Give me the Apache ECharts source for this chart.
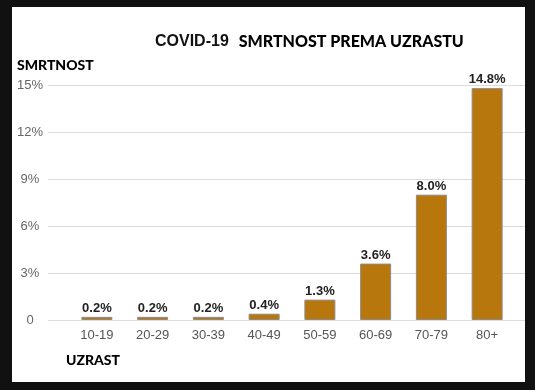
<!DOCTYPE html>
<html>
<head>
<meta charset="utf-8">
<script src="https://cdn.jsdelivr.net/npm/echarts@6/dist/echarts.min.js"></script>
<style>html,body{margin:0;padding:0;background:#111;}#c{width:535px;height:390px;}</style>
</head>
<body>
<div id="c"></div>
<script>
const categories = ['10-19','20-29','30-39','40-49','50-59','60-69','70-79','80+'];
const mortality = [0.2, 0.2, 0.2, 0.4, 1.3, 3.6, 8.0, 14.8];
const yTicks = [0, 3, 6, 9, 12, 15];
const titleLeft = 'COVID-19';
const titleRight = 'SMRTNOST PREMA UZRASTU';
const yName = 'SMRTNOST';
const xName = 'UZRAST';

const chart = echarts.init(document.getElementById('c'), null, {renderer: 'canvas'});
const yMax = yTicks[yTicks.length - 1];
const yStep = yTicks[1] - yTicks[0];
chart.setOption({
  backgroundColor: '#111111',
  animation: false,
  title: {
    text: '{a|' + titleLeft + '}  {b|' + titleRight + '}',
    left: 150, top: 28,
    textStyle: {
      rich: {
        a: {fontFamily: 'Liberation Sans', fontWeight: 'bold', fontSize: 16, color: '#111'},
        b: {fontFamily: 'Lato', fontWeight: 900, fontSize: 16, color: '#000'}
      }
    }
  },
  graphic: [
    {type: 'rect', z: -10, shape: {x: 12, y: 7, width: 513, height: 375}, style: {fill: '#ffffff'}},
    {type: 'text', style: {text: yName, x: 17, y: 65, textVerticalAlign: 'middle', font: '900 14px Lato', fill: '#000'}},
    {type: 'text', style: {text: xName, x: 66, y: 360, textVerticalAlign: 'middle', font: '900 14px Lato', fill: '#000'}}
  ],
  grid: [
    {left: 48, right: 10, top: 85, bottom: 70},
    {left: 69, right: 20, top: 85, bottom: 70}
  ],
  xAxis: [
    {type: 'value', gridIndex: 0, show: false, min: 0, max: 1},
    {type: 'category', gridIndex: 1, data: categories,
     axisLine: {show: false}, axisTick: {show: false},
     axisLabel: {color: '#555', fontFamily: 'Liberation Sans', fontSize: 13, margin: 9}}
  ],
  yAxis: [
    {type: 'value', gridIndex: 0, min: 0, max: yMax, interval: yStep,
     axisLine: {show: false}, axisTick: {show: false},
     splitLine: {lineStyle: {color: '#dcdcdc', width: 1}},
     axisLabel: {color: '#666', fontFamily: 'Liberation Sans', fontSize: 13, align: 'center', margin: 18,
       formatter: v => v === 0 ? '0' : v + '%'}},
    {type: 'value', gridIndex: 1, min: 0, max: yMax, interval: yStep, show: false, splitLine: {show: false}}
  ],
  series: [{
    type: 'bar', xAxisIndex: 1, yAxisIndex: 1,
    data: mortality,
    barWidth: 31,
    itemStyle: {color: '#b8770c', borderColor: '#8f8a84', borderWidth: 1},
    label: {show: true, position: 'top', distance: 2, color: '#222', fontFamily: 'Liberation Sans',
      fontWeight: 'bold', fontSize: 13, formatter: p => p.value.toFixed(1) + '%'}
  }]
});
</script>
</body>
</html>
